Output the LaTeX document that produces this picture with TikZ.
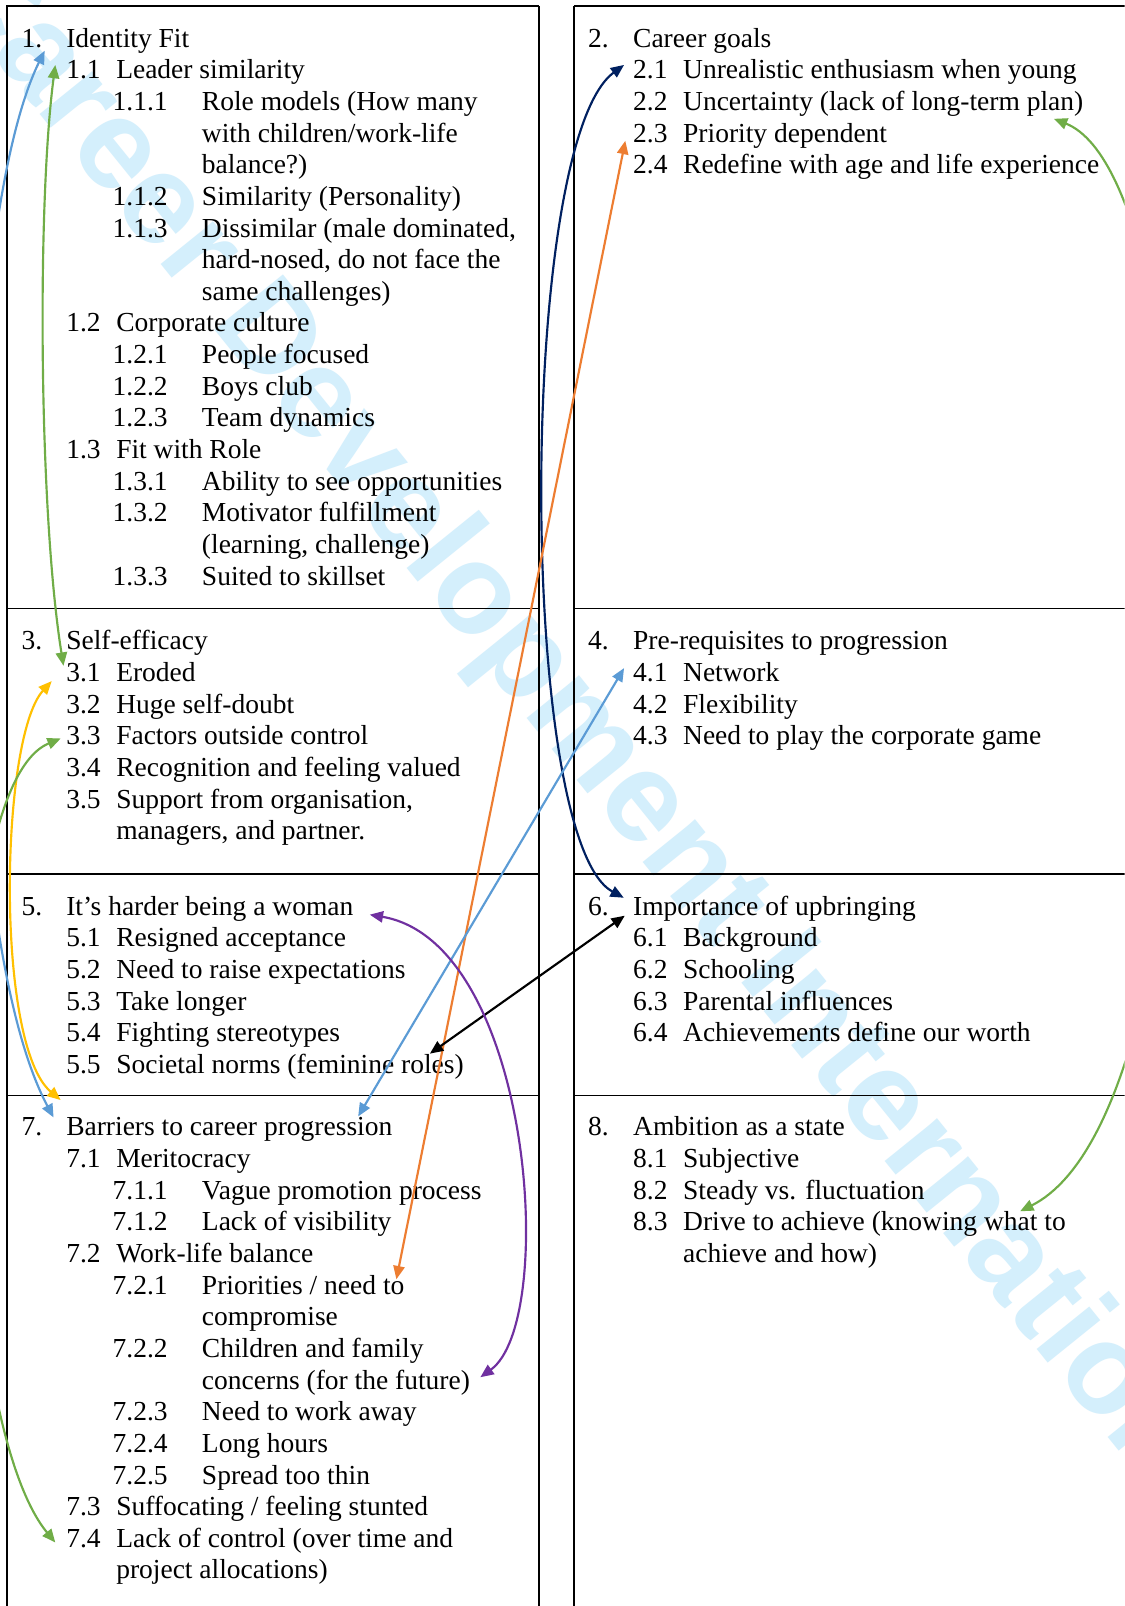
\documentclass[tikz,border=0pt]{standalone}
\usepackage{fontspec}
\setmainfont{Liberation Serif}
\newfontfamily\wmfont{Liberation Sans}
\usetikzlibrary{arrows.meta}
\definecolor{wmblue}{RGB}{212,239,252}
\definecolor{arrblue}{RGB}{91,155,213}
\definecolor{arrgreen}{RGB}{112,173,71}
\definecolor{arryellow}{RGB}{255,192,0}
\definecolor{arrnavy}{RGB}{0,32,96}
\definecolor{arrorange}{RGB}{237,125,49}
\definecolor{arrpurple}{RGB}{112,48,160}
\tikzset{
  txt/.style={anchor=base west, inner sep=0pt, font=\fontsize{26.85}{30.9}\selectfont},
  wm/.style={inner sep=0pt, text=wmblue, font=\wmfont\bfseries\fontsize{125}{125}\selectfont},
  outer/.style={line width=2pt},
  inner/.style={line width=1pt},
  conn/.style={line width=2.1pt, arrows={Triangle[length=13pt,width=11pt]-Triangle[length=13pt,width=11pt]}},
}
\newcommand\myitem[6]{\node[txt] (#1n) at (#2,#4) {#5}; \node[txt] (#1t) at (#3,#4) {#6};}
\newcommand\mycont[4]{\node[txt] (#1) at (#2,#3) {#4};}
\begin{document}
\begin{tikzpicture}[x=1pt,y=-1pt]
\clip (0,0) rectangle (1098,1568);
\fill[white] (0,0) rectangle (1098,1568);
% watermark
\node[wm, rotate=-51.1] (wmark) at (587,739) {Career Development International};
% table borders
\draw[outer] (7,1568) -- (7,6) -- (526.3,6);
\draw[line width=1.3pt] (526.3,6) -- (526.3,1568);
\draw[line width=1.3pt] (560.5,1568) -- (560.5,6);
\draw[outer] (560.5,6) -- (1098,6);
\draw[inner] (7,593.7) -- (526.3,593.7) (560.5,593.7) -- (1098,593.7);
\draw[inner] (7,853.3) -- (526.3,853.3) (560.5,853.3) -- (1098,853.3);
\draw[line width=1.6pt] (7,1069.4) -- (526.3,1069.4) (560.5,1069.4) -- (1098,1069.4);
% box 1
\myitem{a0}{21}{64.5}{46.0}{1.}{Identity Fit}
\myitem{a1}{64.5}{113.3}{76.9}{1.1}{Leader similarity}
\myitem{a11}{109.8}{197}{107.8}{1.1.1}{Role models (How many}
\mycont{a11b}{197}{138.7}{with children/work-life}
\mycont{a11c}{197}{169.6}{balance?)}
\myitem{a12}{109.8}{197}{200.5}{1.1.2}{Similarity (Personality)}
\myitem{a13}{109.8}{197}{231.4}{1.1.3}{Dissimilar (male dominated,}
\mycont{a13b}{197}{262.3}{hard-nosed, do not face the}
\mycont{a13c}{197}{293.2}{same challenges)}
\myitem{a2}{64.5}{113.3}{324.1}{1.2}{Corporate culture}
\myitem{a21}{109.8}{197}{355.0}{1.2.1}{People focused}
\myitem{a22}{109.8}{197}{385.9}{1.2.2}{Boys club}
\myitem{a23}{109.8}{197}{416.8}{1.2.3}{Team dynamics}
\myitem{a3}{64.5}{113.3}{447.7}{1.3}{Fit with Role}
\myitem{a31}{109.8}{197}{478.6}{1.3.1}{Ability to see opportunities}
\myitem{a32}{109.8}{197}{509.5}{1.3.2}{Motivator fulfillment}
\mycont{a32b}{197}{540.4}{(learning, challenge)}
\myitem{a33}{109.8}{197}{571.3}{1.3.3}{Suited to skillset}
% box 2
\myitem{b0}{574}{618}{46.0}{2.}{Career goals}
\myitem{b1}{618}{666.8}{76.9}{2.1}{Unrealistic enthusiasm when young}
\myitem{b2}{618}{666.8}{107.8}{2.2}{Uncertainty (lack of long-term plan)}
\myitem{b3}{618}{666.8}{138.7}{2.3}{Priority dependent}
\myitem{b4}{618}{666.8}{169.6}{2.4}{Redefine with age and life experience}
% box 3
\myitem{c0}{21}{64.5}{634.5}{3.}{Self-efficacy}
\myitem{c1}{64.5}{113.3}{665.4}{3.1}{Eroded}
\myitem{c2}{64.5}{113.3}{696.3}{3.2}{Huge self-doubt}
\myitem{c3}{64.5}{113.3}{727.2}{3.3}{Factors outside control}
\myitem{c4}{64.5}{113.3}{758.1}{3.4}{Recognition and feeling valued}
\myitem{c5}{64.5}{113.3}{789.0}{3.5}{Support from organisation,}
\mycont{c5b}{113.3}{819.9}{managers, and partner.}
% box 4
\myitem{d0}{574}{618}{634.5}{4.}{Pre-requisites to progression}
\myitem{d1}{618}{666.8}{665.4}{4.1}{Network}
\myitem{d2}{618}{666.8}{696.3}{4.2}{Flexibility}
\myitem{d3}{618}{666.8}{727.2}{4.3}{Need to play the corporate game}
% box 5
\myitem{e0}{21}{64.5}{893.5}{5.}{It’s harder being a woman}
\myitem{e1}{64.5}{113.3}{924.4}{5.1}{Resigned acceptance}
\myitem{e2}{64.5}{113.3}{955.3}{5.2}{Need to raise expectations}
\myitem{e3}{64.5}{113.3}{986.2}{5.3}{Take longer}
\myitem{e4}{64.5}{113.3}{1017.1}{5.4}{Fighting stereotypes}
\myitem{e5}{64.5}{113.3}{1048.0}{5.5}{Societal norms (feminine roles)}
% box 6
\myitem{f0}{574}{618}{893.5}{6.}{Importance of upbringing}
\myitem{f1}{618}{666.8}{924.4}{6.1}{Background}
\myitem{f2}{618}{666.8}{955.3}{6.2}{Schooling}
\myitem{f3}{618}{666.8}{986.2}{6.3}{Parental influences}
\myitem{f4}{618}{666.8}{1017.1}{6.4}{Achievements define our worth}
% box 7
\myitem{g0}{21}{64.5}{1109.0}{7.}{Barriers to career progression}
\myitem{g1}{64.5}{113.3}{1139.9}{7.1}{Meritocracy}
\myitem{g11}{109.8}{197}{1170.8}{7.1.1}{Vague promotion process}
\myitem{g12}{109.8}{197}{1201.7}{7.1.2}{Lack of visibility}
\myitem{g2}{64.5}{113.3}{1232.6}{7.2}{Work-life balance}
\myitem{g21}{109.8}{197}{1263.5}{7.2.1}{Priorities / need to}
\mycont{g21b}{197}{1294.4}{compromise}
\myitem{g22}{109.8}{197}{1325.3}{7.2.2}{Children and family}
\mycont{g22b}{197}{1356.2}{concerns (for the future)}
\myitem{g23}{109.8}{197}{1387.1}{7.2.3}{Need to work away}
\myitem{g24}{109.8}{197}{1418.0}{7.2.4}{Long hours}
\myitem{g25}{109.8}{197}{1448.9}{7.2.5}{Spread too thin}
\myitem{g3}{64.5}{113.3}{1479.8}{7.3}{Suffocating / feeling stunted}
\myitem{g4}{64.5}{113.3}{1510.7}{7.4}{Lack of control (over time and}
\mycont{g4b}{113.3}{1541.6}{project allocations)}
% box 8
\myitem{h0}{574}{618}{1109.0}{8.}{Ambition as a state}
\myitem{h1}{618}{666.8}{1139.9}{8.1}{Subjective}
\myitem{h2}{618}{666.8}{1170.8}{8.2}{Steady vs. fluctuation}
\myitem{h3}{618}{666.8}{1201.7}{8.3}{Drive to achieve (knowing what to}
\mycont{h3b}{666.8}{1232.6}{achieve and how)}
% connector end points
\coordinate (bA) at (43.6,49.5);   \coordinate (bB) at (52.3,1091);
\coordinate (gA) at (54,63.4);     \coordinate (gB) at (62,650);
\coordinate (yA) at (50.5,665);    \coordinate (yB) at (59.2,1074);
\coordinate (hA) at (59.3,721);    \coordinate (hB) at (54,1506);
\coordinate (nA) at (609.3,63.4);  \coordinate (nB) at (609,876.5);
\coordinate (oA) at (610.5,137.5); \coordinate (oB) at (387,1249);
\coordinate (lA) at (609.3,652.3); \coordinate (lB) at (349.7,1090);
\coordinate (kA) at (610,894);     \coordinate (kB) at (419.7,1028.7);
\coordinate (pA) at (361,893);     \coordinate (pB) at (469,1344.6);
\coordinate (rA) at (1029,116);    \coordinate (rB) at (996,1182.6);
% connectors
\draw[conn, arrblue] (bA) .. controls (-45,230) and (-50,900) .. (bB);
\draw[conn, arrgreen] (gA) .. controls (36,200) and (38,500) .. (gB);
\draw[conn, arryellow] (yA) .. controls (0,720) and (-5,1020) .. (yB);
\draw[conn, arrgreen] (hA) .. controls (-60,770) and (-50,1380) .. (hB);
\draw[conn, arrnavy] (nA) .. controls (505,140) and (505,820) .. (nB);
\draw[conn, arrorange] (oA) -- (oB);
\draw[conn, arrblue] (lA) -- (lB);
\draw[conn, black] (kA) -- (kB);
\draw[conn, arrpurple] (pA) .. controls (520,920) and (545,1290) .. (pB);
\draw[conn, arrgreen] (rA) .. controls (1190,180) and (1200,1080) .. (rB);
\end{tikzpicture}
\end{document}
